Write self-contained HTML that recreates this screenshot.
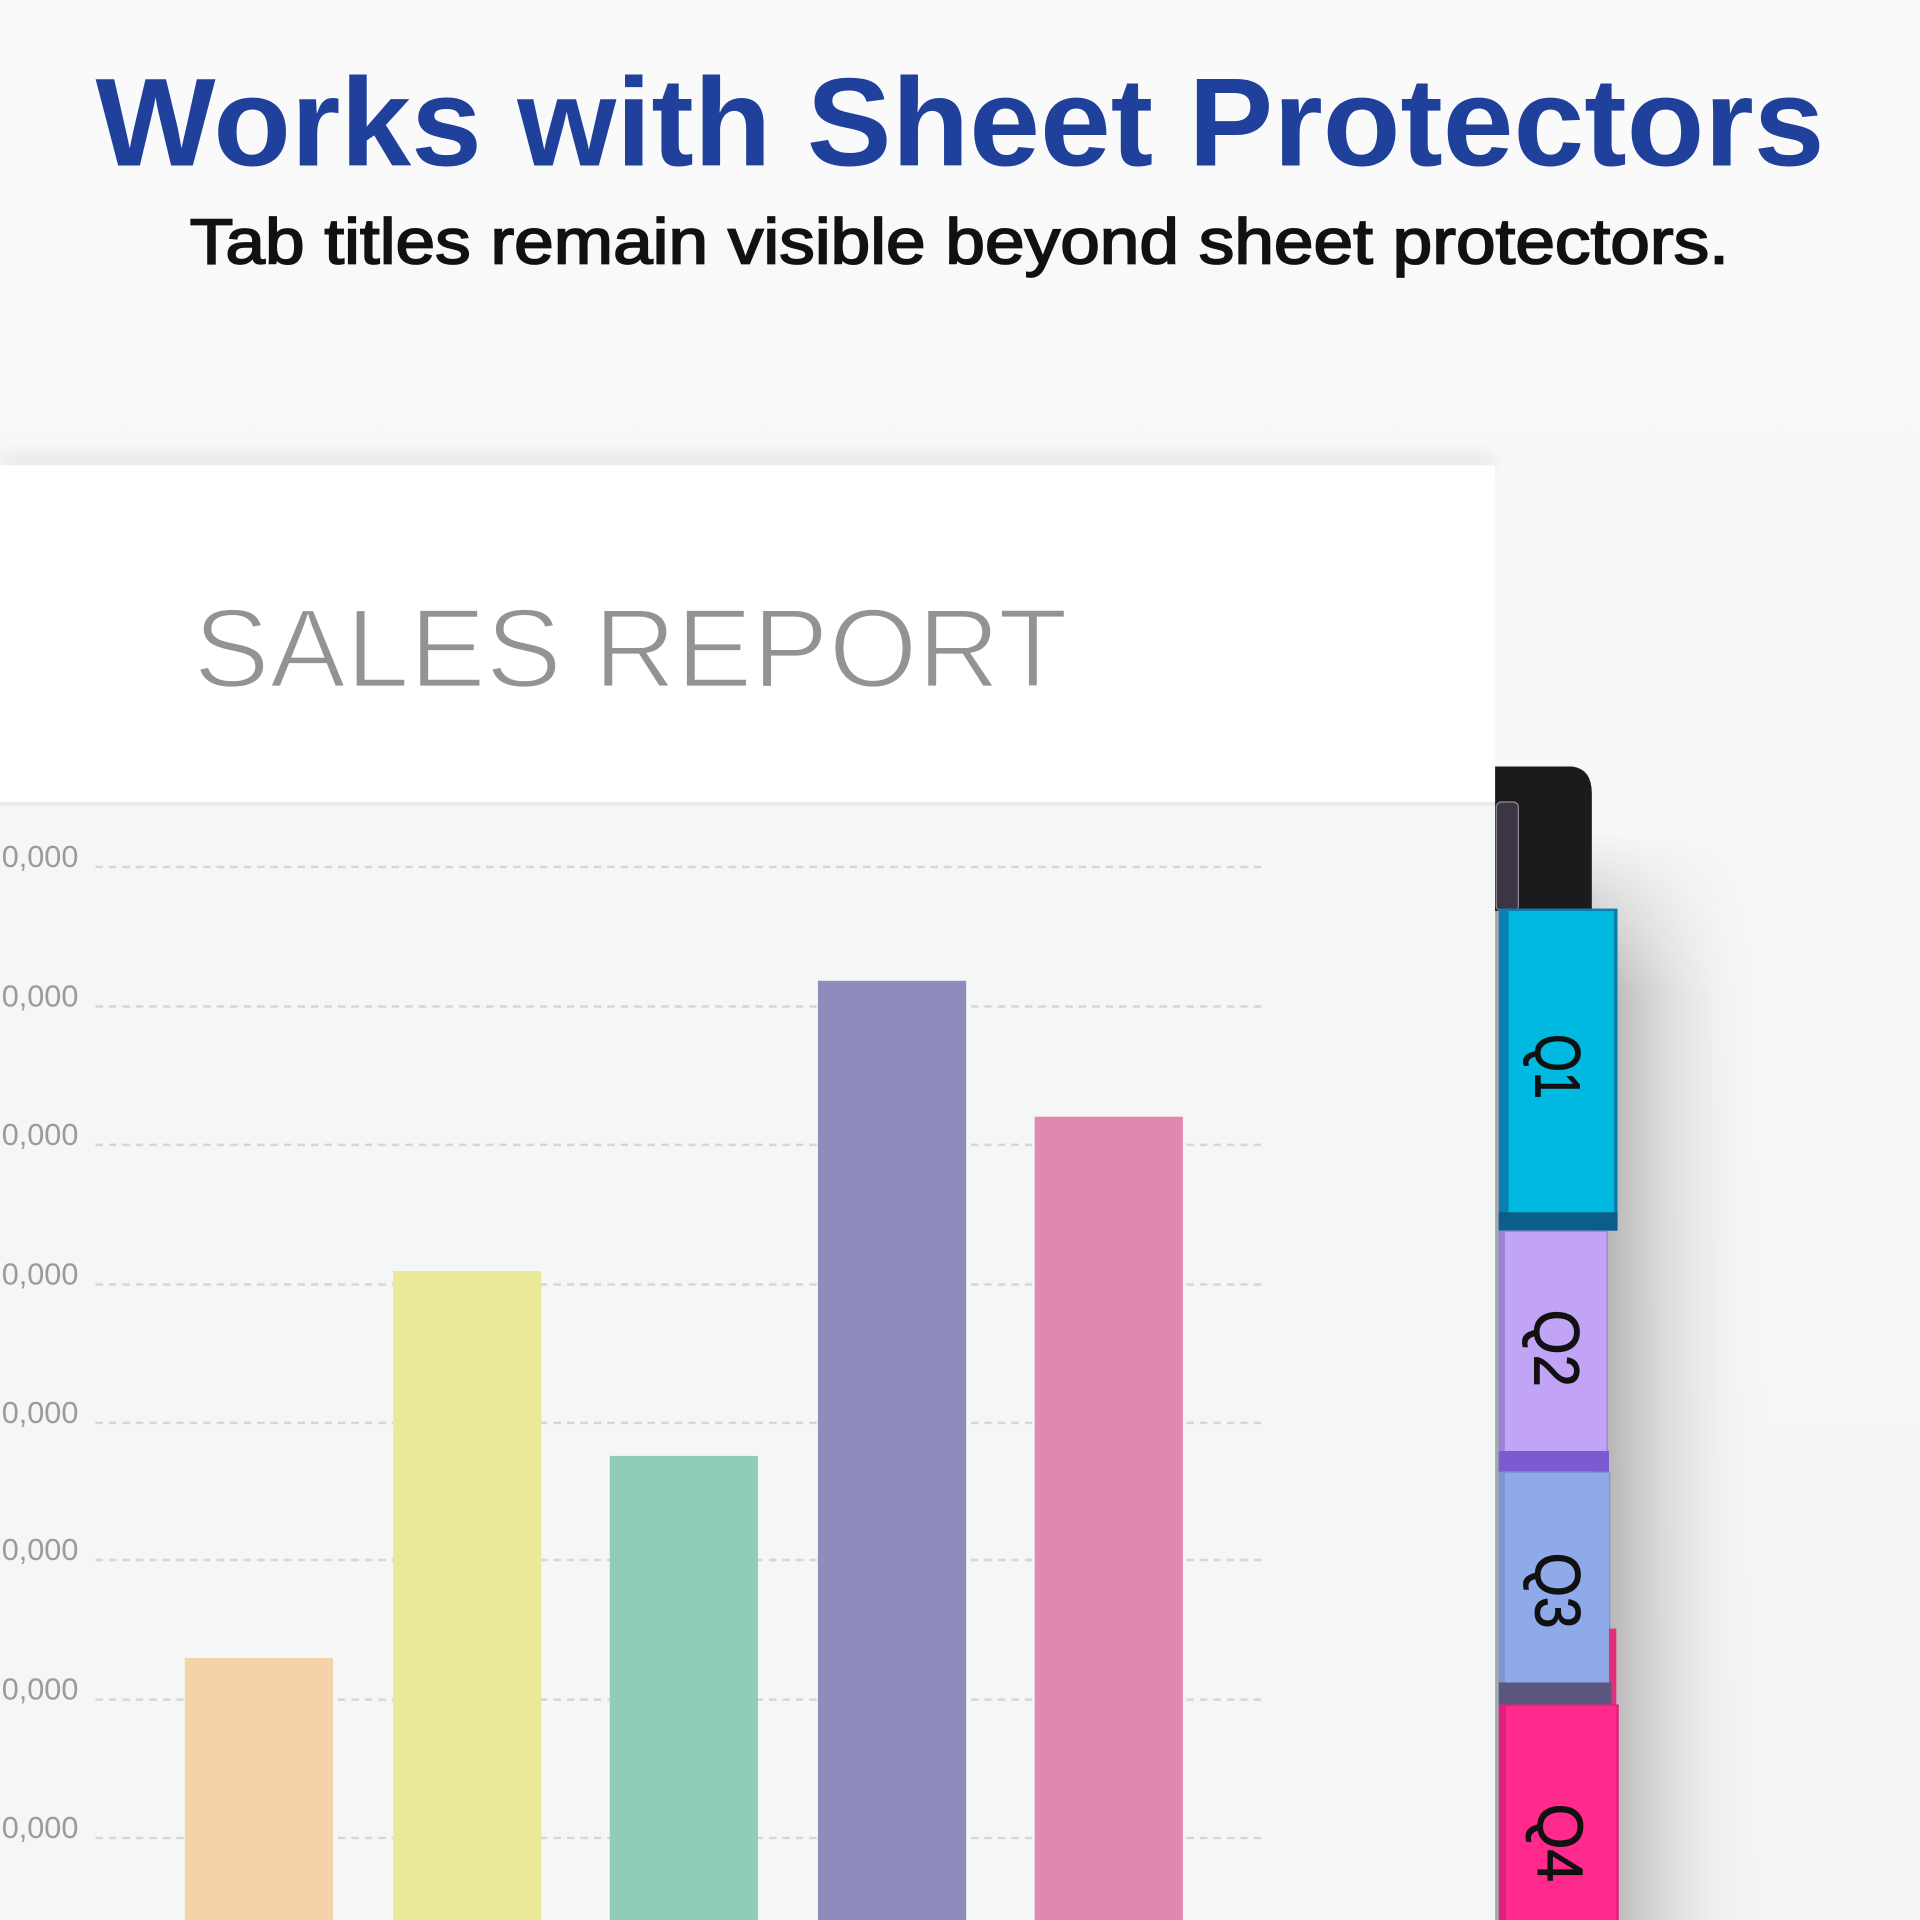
<!DOCTYPE html>
<html><head><meta charset="utf-8"><style>
html,body{margin:0;padding:0;background:#f7f7f7;width:1920px;height:1920px;overflow:hidden;}
svg{display:block;}
</style></head><body>
<svg width="1920" height="1920" viewBox="0 0 1568 1568" xmlns="http://www.w3.org/2000/svg">
<defs>
<linearGradient id="bgAll" x1="0" y1="0" x2="0" y2="1">
<stop offset="0" stop-color="#fafafa"/><stop offset="0.3" stop-color="#f8f8f8"/><stop offset="1" stop-color="#f4f4f4"/>
</linearGradient>
<linearGradient id="tabShadow" x1="0" y1="0" x2="1" y2="0">
<stop offset="0" stop-color="#9a9a9a" stop-opacity="0.85"/><stop offset="0.35" stop-color="#bdbdbd" stop-opacity="0.6"/><stop offset="1" stop-color="#f4f4f4" stop-opacity="0"/>
</linearGradient>
<linearGradient id="tabShadowV" x1="0" y1="0" x2="0" y2="1">
<stop offset="0" stop-color="#fff" stop-opacity="0"/><stop offset="0.15" stop-color="#fff" stop-opacity="1"/><stop offset="1" stop-color="#fff" stop-opacity="1"/>
</linearGradient>
<mask id="shMask"><rect x="1300" y="680" width="140" height="888" fill="url(#tabShadowV)"/></mask>
<filter id="blur2" x="-50%" y="-50%" width="200%" height="200%"><feGaussianBlur stdDeviation="6"/></filter>
</defs>
<rect x="0" y="0" width="1568" height="1568" fill="url(#bgAll)"/>

<!-- titles -->
<text x="78" y="135" textLength="1412" lengthAdjust="spacingAndGlyphs" font-family="Liberation Sans, Arial, sans-serif" font-weight="bold" font-size="102" fill="#1f419b">Works with Sheet Protectors</text>
<text x="155" y="215" textLength="1257" lengthAdjust="spacingAndGlyphs" font-family="Liberation Sans, Arial, sans-serif" font-size="52" fill="#111" stroke="#111" stroke-width="1.4">Tab titles remain visible beyond sheet protectors.</text>

<!-- shadows -->
<rect x="1300" y="680" width="140" height="888" fill="url(#tabShadow)" mask="url(#shMask)"/>
<rect x="0" y="370" width="1221" height="14" fill="#dddddd" opacity="0.55" filter="url(#blur2)"/>

<!-- paper -->
<rect x="0" y="380" width="1221" height="1188" fill="#ffffff"/>
<text x="158" y="561" textLength="714" lengthAdjust="spacingAndGlyphs" font-family="Liberation Sans, Arial, sans-serif" font-size="92" fill="#939393" stroke="#ffffff" stroke-width="2.2">SALES REPORT</text>
<rect x="0" y="657" width="1221" height="911" fill="#f5f6f6"/>
<rect x="0" y="655" width="1221" height="3" fill="#ebebeb"/>

<!-- grid -->
<g stroke="#d6d6d6" stroke-width="2" stroke-dasharray="6 5">
<line x1="78" y1="708" x2="1030" y2="708"/>
<line x1="78" y1="822" x2="1030" y2="822"/>
<line x1="78" y1="935" x2="1030" y2="935"/>
<line x1="78" y1="1049" x2="1030" y2="1049"/>
<line x1="78" y1="1162" x2="1030" y2="1162"/>
<line x1="78" y1="1274" x2="1030" y2="1274"/>
<line x1="78" y1="1388" x2="1030" y2="1388"/>
<line x1="78" y1="1501" x2="1030" y2="1501"/>
</g>
<g font-family="Liberation Sans, Arial, sans-serif" font-size="25" fill="#9b9b9b" text-anchor="end">
<text x="64" y="708">0,000</text>
<text x="64" y="822">0,000</text>
<text x="64" y="935">0,000</text>
<text x="64" y="1049">0,000</text>
<text x="64" y="1162">0,000</text>
<text x="64" y="1274">0,000</text>
<text x="64" y="1388">0,000</text>
<text x="64" y="1501">0,000</text>
</g>

<!-- bars -->
<rect x="151" y="1354" width="121" height="214" fill="#f4d3aa"/>
<rect x="321" y="1038" width="121" height="530" fill="#eae99a"/>
<rect x="498" y="1189" width="121" height="379" fill="#8fcdb8"/>
<rect x="668" y="801" width="121" height="767" fill="#8f8bbd"/>
<rect x="845" y="912" width="121" height="656" fill="#e088ae"/>

<!-- tab strip -->
<rect x="1221" y="655" width="6" height="913" fill="#a2a9ae"/>
<!-- black tab -->
<path d="M1221 626 L1284 626 Q1300 628 1300 648 L1300 744 L1221 744 Z" fill="#1b1b1b"/>
<rect x="1222" y="655" width="18" height="89" rx="4" fill="#3b3544" stroke="#8c8c98" stroke-width="1"/>
<!-- Q1 -->
<rect x="1224" y="742" width="97" height="263" fill="#0a7fb0"/>
<rect x="1232" y="744" width="86" height="248" fill="#00b9e0"/>
<rect x="1224" y="990" width="97" height="15" fill="#0c5e8a"/>
<!-- Q2 -->
<rect x="1224" y="1005" width="89" height="195" fill="#9a82da"/>
<rect x="1229" y="1006" width="83" height="180" fill="#c2a4f7"/>
<rect x="1224" y="1185" width="90" height="17" fill="#7a5bd0"/>
<!-- Q3 -->
<rect x="1224" y="1202" width="91" height="190" fill="#7e95d0"/>
<rect x="1229" y="1203" width="85" height="172" fill="#8eaae8"/>
<rect x="1314" y="1330" width="6" height="62" fill="#e0307a"/>
<rect x="1224" y="1374" width="92" height="18" fill="#5b567e"/>
<!-- Q4 -->
<rect x="1224" y="1392" width="98" height="176" fill="#e0207a"/>
<rect x="1230" y="1393" width="90" height="175" fill="#ff2a8c"/>

<g font-family="Liberation Sans, Arial, sans-serif" font-size="52" fill="#111" stroke="#111" stroke-width="0.8" text-anchor="middle">
<text transform="translate(1272,871) rotate(90)" y="18" textLength="53" lengthAdjust="spacingAndGlyphs">Q1</text>
<text transform="translate(1271,1101) rotate(90)" y="18" textLength="63" lengthAdjust="spacingAndGlyphs">Q2</text>
<text transform="translate(1272,1299) rotate(90)" y="18" textLength="62" lengthAdjust="spacingAndGlyphs">Q3</text>
<text transform="translate(1274,1505) rotate(90)" y="18" textLength="64" lengthAdjust="spacingAndGlyphs">Q4</text>
</g>
</svg>
</body></html>
